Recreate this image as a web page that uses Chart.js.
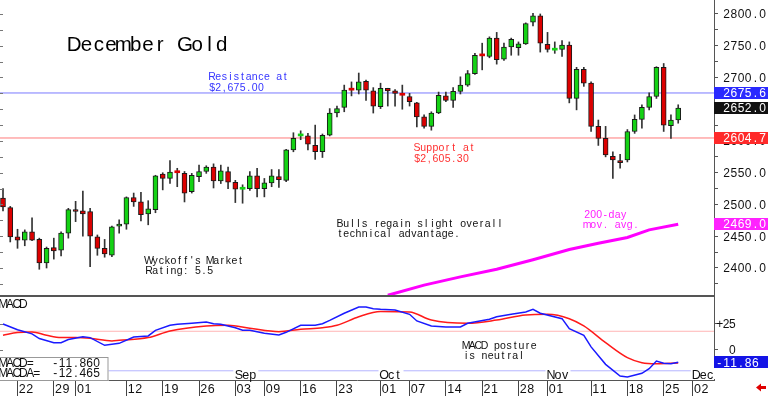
<!DOCTYPE html>
<html>
<head>
<meta charset="utf-8">
<title>December Gold</title>
<script src="https://cdn.jsdelivr.net/npm/chart.js@4.4.1/dist/chart.umd.min.js"></script>
<style>
  html, body { margin: 0; padding: 0; background: #fff; }
  canvas { display: block; }
</style>
</head>
<body>
<canvas id="chart" width="768" height="396"></canvas>
<script>
// daily bars, index 0 = Jul 18 ... 93 = Nov 27 (trading days only)
const opens  = [2510, 2495, 2449, 2444, 2457, 2445, 2408, 2432, 2428, 2455,
                2492, 2490, 2489, 2449, 2431, 2420, 2466, 2469, 2511, 2504,
                2485, 2492, 2548, 2541, 2550.5, 2549, 2520, 2544, 2552, 2559,
                2537, 2552, 2535, 2524, 2525, 2545, 2525, 2534, 2544, 2538,
                2586, 2608, 2608, 2593, 2583, 2609, 2644, 2653, 2680.5, 2680,
                2694, 2679, 2654, 2683, 2679, 2672.5, 2670, 2660, 2638, 2623,
                2644, 2671, 2664, 2678, 2688, 2706, 2734.5, 2733, 2762, 2729,
                2748, 2747, 2753, 2787, 2797, 2752, 2743, 2744, 2751, 2667,
                2713, 2691, 2623, 2604, 2576, 2569, 2570, 2615, 2634, 2653,
                2670, 2716, 2624, 2633];
const highs  = [2525, 2497, 2461, 2460, 2479, 2447, 2433, 2447, 2457, 2494,
                2505, 2521, 2494, 2452, 2445, 2466, 2476, 2512, 2518, 2519,
                2506, 2546, 2550, 2569, 2557, 2552, 2549, 2562, 2561, 2564,
                2562, 2559, 2538, 2531, 2552, 2557, 2541, 2555, 2555, 2587,
                2613, 2616, 2612, 2625, 2611, 2651, 2655, 2688, 2693, 2707,
                2696, 2684, 2691, 2683, 2681, 2688, 2675, 2661, 2641, 2646,
                2677, 2677, 2684, 2701, 2711, 2738, 2754, 2764, 2771, 2754,
                2762, 2756, 2786, 2801, 2800, 2771, 2756, 2758, 2756, 2716,
                2716, 2693, 2633, 2623, 2583, 2579, 2618, 2641, 2657, 2676,
                2717, 2722, 2641, 2657];
const lows   = [2490, 2441, 2431, 2435, 2443, 2398, 2400, 2414, 2419, 2447,
                2473, 2450, 2402, 2420, 2417, 2418, 2455, 2461, 2497, 2474,
                2468, 2487, 2523, 2533, 2528, 2504, 2518, 2536, 2549, 2526,
                2533, 2525, 2503, 2502, 2522, 2512, 2512, 2528, 2527, 2536,
                2583, 2602, 2586, 2571, 2574, 2608, 2638, 2646, 2671, 2674,
                2664, 2644, 2651, 2655, 2655, 2650, 2655, 2622, 2620, 2617,
                2643, 2662, 2653, 2674, 2686, 2705, 2712, 2731, 2721, 2727,
                2735, 2735, 2752, 2781, 2740, 2740, 2738, 2733, 2660, 2649,
                2686, 2615, 2593, 2575, 2541, 2557, 2567, 2612, 2620, 2649,
                2667, 2615, 2604, 2628];
const closes = [2496, 2449, 2444, 2457, 2444, 2408, 2431, 2427, 2455, 2492,
                2489, 2485, 2450, 2431, 2422, 2465, 2469, 2511, 2504, 2484,
                2493, 2545, 2541, 2551, 2550, 2518, 2546, 2552, 2559, 2537,
                2553, 2535, 2524, 2524.5, 2545, 2525, 2534, 2545, 2539, 2586,
                2604, 2608.5, 2595, 2583, 2609, 2644, 2651, 2680, 2680, 2693,
                2680, 2655, 2683, 2679, 2675, 2672, 2662, 2638, 2623, 2644,
                2672, 2664, 2678, 2688, 2706, 2735, 2734, 2762, 2728, 2748,
                2760, 2753, 2785, 2797, 2754, 2744, 2743.5, 2751, 2667, 2713,
                2691, 2623, 2604, 2578, 2570, 2566, 2615, 2634, 2653, 2670,
                2716, 2625, 2633, 2652];

// 200-day moving average (visible part)
const maDays   = [53, 58, 63, 68, 73, 78, 82, 86, 89, 93];
const maValues = [2357, 2373, 2386, 2398, 2413, 2429, 2439, 2448, 2460, 2469];

// MACD (blue) and its average (red)
const macdDays   = [0, 2, 4, 5, 7, 8, 9, 11, 12, 14, 16, 18, 20, 21, 23, 24, 26, 28, 29, 30,
                    32, 33, 34, 36, 38, 39, 41, 43, 44, 45, 47, 49, 50, 51, 52, 54, 56, 57, 59, 61,
                    63, 64, 67, 68, 70, 72, 73, 74, 77, 78, 80, 81, 83, 85, 86, 88, 89, 90, 91, 92, 93];
const macdValues = [25, 19.5, 15.5, 11, 7, 7, 10, 12.8, 11.9, 4.5, 6.4, 12.5, 13.5, 18.9, 23.7, 24.7, 25.7, 26.9, 25.3, 24.7,
                    21.4, 18.9, 18.9, 16, 14.4, 17, 23.7, 23.7, 25.3, 28.5, 35.3, 41.3, 41.3, 39.7, 39.1, 38.5, 34.3, 27.9, 23.1, 22.1,
                    22.1, 25.7, 29.5, 32, 34.3, 36.5, 39.1, 35.3, 30.1, 20.5, 14.1, 3, -13.8, -25, -26, -22.4, -18, -10.6, -12.8, -13.2, -11.86];
const signalDays   = [0, 2, 4, 6, 8, 10, 12, 15, 16, 20, 23, 28, 31, 34, 38, 41, 44, 46, 49, 52,
                      56, 59, 64, 68, 72, 75, 78, 80, 83, 86, 88, 90, 93];
const signalValues = [14.1, 16.7, 17.3, 14.1, 11.9, 11.9, 11.2, 8.7, 9.3, 11.9, 18.3, 23.1, 23.7, 20.9, 17.6, 19.9, 21.4, 23.7, 32, 37,
                      36.5, 28.8, 25.7, 28.8, 33.7, 34.3, 30.1, 23.1, 7, -7.4, -12.2, -13.2, -12.465];

// axis labels
const tickDays   = [2, 7, 10, 17, 22, 27, 32, 36, 41, 46, 52, 56, 61, 66, 71, 75, 81, 86, 91, 95];
const tickLabels = ['22', '29', '01', '12', '19', '26', '03', '09', '16', '23', '01', '07', '14', '21', '28', '01', '11', '18', '25', '02'];
const monthDays   = [32, 52, 75, 95];
const monthLabels = ['Sep', 'Oct', 'Nov', 'Dec'];
const priceTicks = [2400, 2450, 2500, 2550, 2600, 2650, 2700, 2750, 2800];
const macdTicks  = [0, 25];

// levels
const resistance = 2675.6;
const support = 2604.7;
const lastClose = 2652.0;
const lastMA = 2469.0;
const macdNow = -11.860;
const macdAvgNow = -12.465;

const GREEN = '#14d214';
const RED = '#dc0000';
const X_MIN = -0.413, X_MAX = 97.93;

const days = opens.map((_, i) => i);
const isUp = i => closes[i] >= opens[i];
const isDoji = i => Math.abs(closes[i] - opens[i]) < 1;

function flatLine(v) {
  return [{x: X_MIN, y: v}, {x: X_MAX, y: v}];
}

function monoText(ctx, str, x, yBase, pitch, size, color) {
  ctx.save();
  ctx.font = size + 'px "Liberation Sans", Arial, sans-serif';
  ctx.fillStyle = color;
  ctx.textAlign = 'center';
  ctx.textBaseline = 'alphabetic';
  for (let i = 0; i < str.length; i++) {
    ctx.fillText(str[i], x + pitch * (i + 0.5), yBase);
  }
  ctx.restore();
}

function flag(ctx, p, text, bg, textX) {
  ctx.fillStyle = bg;
  ctx.fillRect(714, Math.round(p - 6), 54, 12);
  monoText(ctx, text, textX, p + 4.3, 7.2, 12, '#fff');
}

const overlay = {
  id: 'overlay',
  afterDraw(chart) {
    const ctx = chart.ctx;
    const {x, y, y2} = chart.scales;
    const right = chart.chartArea.right;

    ctx.save();
    // panel separator
    ctx.strokeStyle = '#555';
    ctx.lineWidth = 2;
    ctx.beginPath();
    ctx.moveTo(0, y.bottom);
    ctx.lineTo(right, y.bottom);
    ctx.stroke();

    // little marks on the left edge
    ctx.lineWidth = 1;
    ctx.strokeStyle = '#777';
    ctx.beginPath();
    y.ticks.concat(y2.ticks.map(t => ({value: t.value, s: y2}))).forEach(t => {
      const sc = t.s || y;
      const p = Math.round(sc.getPixelForValue(t.value)) + 0.5;
      ctx.moveTo(0, p);
      ctx.lineTo(3, p);
    });
    ctx.stroke();
    ctx.restore();

    // annotations
    monoText(ctx, 'December Gold', 68, 51, 12.3, 20.5, '#000');
    monoText(ctx, 'Resistance at', 209, 80, 6.1, 10.5, '#3535ff');
    monoText(ctx, '$2,675.00', 209, 90.5, 6.1, 10.5, '#3535ff');
    monoText(ctx, 'Support at', 414, 151, 6.1, 10.5, '#ff3030');
    monoText(ctx, '$2,605.30', 414, 161.5, 6.1, 10.5, '#ff3030');
    monoText(ctx, 'Bulls regain slight overall', 337, 226.5, 6.15, 10.5, '#111');
    monoText(ctx, 'technical advantage.', 337, 236.5, 6.15, 10.5, '#111');
    monoText(ctx, "Wyckoff's Market", 146, 263.5, 6.1, 10.5, '#111');
    monoText(ctx, 'Rating: 5.5', 146, 273.5, 6.1, 10.5, '#111');
    monoText(ctx, '200-day', 584, 217.5, 6.1, 10.5, '#ff20ff');
    monoText(ctx, 'mov. avg.', 584, 227.5, 6.1, 10.5, '#ff20ff');
    monoText(ctx, 'MACD posture', 463, 349, 6.15, 10.5, '#111');
    monoText(ctx, 'is neutral', 463, 359, 6.15, 10.5, '#111');
    monoText(ctx, 'MACD', 0, 307.5, 6.7, 12, '#111');

    // readout box
    ctx.save();
    ctx.fillStyle = '#fff';
    ctx.fillRect(-1, 357, 109.5, 24);
    ctx.strokeStyle = '#999';
    ctx.lineWidth = 1;
    ctx.strokeRect(-0.5, 357.5, 108.5, 23);
    ctx.restore();
    monoText(ctx, 'MACD=', 0, 366.5, 6.7, 12, '#111');
    monoText(ctx, macdNow.toFixed(3), 51.7, 366.5, 6.9, 12, '#111');
    monoText(ctx, 'MACDA=', 0, 377.3, 6.7, 12, '#111');
    monoText(ctx, macdAvgNow.toFixed(3), 51.7, 377.3, 6.9, 12, '#111');

    // month labels on the light line
    monthDays.forEach((d, i) => {
      const px = x.getPixelForValue(d);
      ctx.fillStyle = '#fff';
      ctx.fillRect(px - 2, 367, 25, 12);
      monoText(ctx, monthLabels[i], px, 379, 7, 12.5, '#111');
    });

    // day labels under the tick marks
    tickDays.forEach((d, i) => {
      const px = x.getPixelForValue(d);
      monoText(ctx, tickLabels[i], px + 1, 392.5, 7.5, 12.5, '#111');
    });

    // price labels and flags
    priceTicks.forEach(v => {
      monoText(ctx, v.toFixed(1), 723, y.getPixelForValue(v) + 4.3, 7.2, 12, '#111');
    });
    ctx.save();
    flag(ctx, y.getPixelForValue(resistance), resistance.toFixed(1), '#2a2aff', 723);
    flag(ctx, y.getPixelForValue(lastClose), lastClose.toFixed(1), '#111111', 723);
    flag(ctx, y.getPixelForValue(support), support.toFixed(1), '#ff2a2a', 723);
    flag(ctx, y.getPixelForValue(lastMA), lastMA.toFixed(1), '#ff22ff', 723);
    ctx.restore();

    // MACD scale
    macdTicks.forEach(v => {
      const s = v > 0 ? '+' + v : String(v);
      monoText(ctx, s, 735.5 - s.length * 6.3, y2.getPixelForValue(v) + 4.3, 6.3, 12, '#111');
    });
    ctx.save();
    flag(ctx, y2.getPixelForValue(macdNow), macdNow.toFixed(2), '#1414e6', 715.7);
    ctx.restore();

    // red arrow bottom right
    ctx.save();
    ctx.fillStyle = '#e00000';
    ctx.beginPath();
    ctx.moveTo(756, 387.5);
    ctx.lineTo(761, 383.5);
    ctx.lineTo(761, 386);
    ctx.lineTo(766, 386);
    ctx.lineTo(766, 389);
    ctx.lineTo(761, 389);
    ctx.lineTo(761, 391.5);
    ctx.closePath();
    ctx.fill();
    ctx.restore();
  }
};

const ctx = document.getElementById('chart').getContext('2d');
const chart = new Chart(ctx, {
  type: 'bar',
  data: {
    datasets: [
      {
        type: 'line',
        data: flatLine(resistance),
        borderColor: '#7a7aff',
        borderWidth: 1,
        pointRadius: 0,
        yAxisID: 'y',
        order: 20
      },
      {
        type: 'line',
        data: flatLine(support),
        borderColor: '#ff7a7a',
        borderWidth: 1,
        pointRadius: 0,
        yAxisID: 'y',
        order: 20
      },
      {
        type: 'line',
        data: flatLine(18),
        borderColor: '#ffb4b4',
        borderWidth: 1,
        pointRadius: 0,
        yAxisID: 'y2',
        order: 20
      },
      {
        type: 'line',
        data: flatLine(-20),
        borderColor: '#b4b4ff',
        borderWidth: 1,
        pointRadius: 0,
        yAxisID: 'y2',
        order: 20
      },
      {
        // wicks
        data: days.map(i => ({x: i, y: [lows[i], highs[i]]})),
        backgroundColor: '#333',
        barThickness: 1,
        grouped: false,
        yAxisID: 'y',
        order: 6
      },
      {
        // bodies
        data: days.map(i => ({x: i, y: [opens[i], closes[i]]})),
        backgroundColor: days.map(i => isUp(i) ? GREEN : RED),
        borderColor: '#1a1a1a',
        borderWidth: days.map(i => isDoji(i) ? 0 : 1),
        borderSkipped: false,
        barThickness: 5,
        minBarLength: 2,
        grouped: false,
        yAxisID: 'y',
        order: 5
      },
      {
        type: 'line',
        data: maDays.map((d, i) => ({x: d, y: maValues[i]})),
        borderColor: '#ff00ff',
        borderWidth: 3,
        pointRadius: 0,
        yAxisID: 'y',
        order: 3
      },
      {
        type: 'line',
        data: signalDays.map((d, i) => ({x: d, y: signalValues[i]})),
        borderColor: '#ff1a1a',
        borderWidth: 1.5,
        pointRadius: 0,
        cubicInterpolationMode: 'monotone',
        yAxisID: 'y2',
        order: 2
      },
      {
        type: 'line',
        data: macdDays.map((d, i) => ({x: d, y: macdValues[i]})),
        borderColor: '#1a1aff',
        borderWidth: 1.5,
        pointRadius: 0,
        tension: 0,
        yAxisID: 'y2',
        order: 1
      }
    ]
  },
  options: {
    responsive: false,
    animation: false,
    devicePixelRatio: 1,
    layout: { padding: 0 },
    plugins: {
      legend: { display: false },
      tooltip: { enabled: false }
    },
    scales: {
      x: {
        type: 'linear',
        min: X_MIN,
        max: X_MAX,
        offset: false,
        afterBuildTicks: s => { s.ticks = tickDays.map(v => ({value: v})); },
        afterFit: s => { s.height = 16; },
        ticks: { display: false },
        grid: { offset: false, drawOnChartArea: false, drawTicks: true, tickLength: 16, color: '#444' },
        border: { display: true, color: '#555', width: 1 }
      },
      y: {
        type: 'linear',
        position: 'right',
        stack: 'panels',
        stackWeight: 296,
        min: 2355.9,
        max: 2822.0,
        beginAtZero: false,
        afterBuildTicks: s => {
          const t = [];
          for (let v = 2375; v <= 2800; v += 25) t.push({value: v});
          s.ticks = t;
        },
        afterFit: s => { s.width = 54; },
        ticks: { display: false },
        grid: { drawOnChartArea: false, drawTicks: true, tickLength: 4, color: '#555' },
        border: { display: true, color: '#555', width: 1 }
      },
      y2: {
        type: 'linear',
        position: 'right',
        stack: 'panels',
        stackWeight: 84,
        min: -28.85,
        max: 51.9,
        beginAtZero: false,
        afterBuildTicks: s => { s.ticks = macdTicks.map(v => ({value: v})); },
        afterFit: s => { s.width = 54; },
        ticks: { display: false },
        grid: { drawOnChartArea: false, drawTicks: true, tickLength: 4, color: '#555' },
        border: { display: true, color: '#555', width: 1 }
      }
    }
  },
  plugins: [overlay]
});
</script>
</body>
</html>
